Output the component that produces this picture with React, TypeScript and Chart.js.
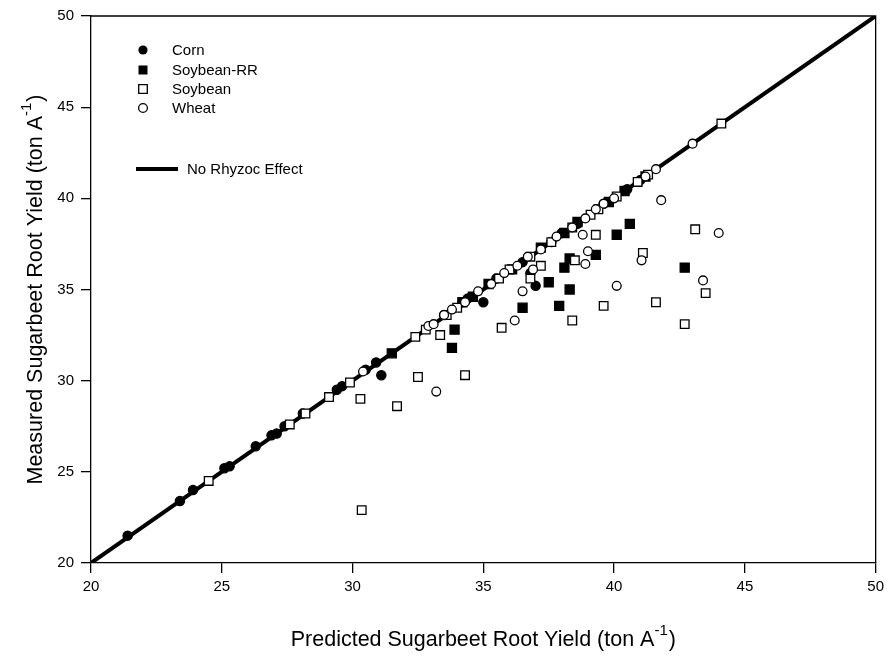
import React, { useEffect, useRef } from "react";
import { Chart, registerables } from "chart.js";

Chart.register(...registerables);

// ---- Data ----
const cornPredicted = [21.4, 23.4, 23.9, 25.1, 25.3, 26.3, 26.9, 27.1, 27.4, 28.1, 29.4, 29.6, 30.5, 30.9, 31.1, 33.5, 34.2, 34.4, 35.0, 35.5, 36.5, 36.8, 37.0, 37.6, 38.0, 38.6, 39.6, 40.5, 41.0];
const cornMeasured = [21.5, 23.4, 24.0, 25.2, 25.3, 26.4, 27.0, 27.1, 27.5, 28.2, 29.5, 29.7, 30.6, 31.0, 30.3, 33.6, 34.3, 34.5, 34.3, 35.6, 36.5, 35.9, 35.2, 37.6, 38.1, 38.6, 39.7, 40.5, 41.0];

const soyRRPredicted = [31.5, 34.2, 34.6, 35.2, 36.1, 37.2, 38.1, 38.6, 39.8, 40.4, 41.2, 33.8, 33.9, 36.5, 37.5, 37.9, 38.1, 38.3, 38.3, 39.3, 40.1, 40.6, 42.7];
const soyRRMeasured = [31.5, 34.3, 34.6, 35.3, 36.1, 37.3, 38.1, 38.7, 39.8, 40.4, 41.2, 31.8, 32.8, 34.0, 35.4, 34.1, 36.2, 36.7, 35.0, 36.9, 38.0, 38.6, 36.2];

const soyPredicted = [24.5, 27.6, 28.2, 29.1, 29.9, 32.4, 32.8, 33.6, 34.0, 35.6, 36.0, 36.8, 37.6, 38.4, 39.1, 39.4, 40.1, 40.9, 41.3, 44.1, 30.35, 30.3, 31.7, 32.5, 34.3, 33.35, 35.7, 36.8, 37.2, 38.4, 39.3, 38.5, 41.1, 43.1, 39.6, 41.6, 43.5, 42.7];
const soyMeasured = [24.5, 27.6, 28.2, 29.1, 29.9, 32.4, 32.8, 33.6, 34.0, 35.6, 36.1, 36.8, 37.6, 38.4, 39.1, 39.4, 40.1, 40.9, 41.3, 44.1, 22.9, 29.0, 28.6, 30.2, 30.3, 32.5, 32.9, 35.6, 36.3, 33.3, 38.0, 36.6, 37.0, 38.3, 34.1, 34.3, 34.8, 33.1];

const wheatPredicted = [30.4, 32.9, 33.1, 33.5, 33.8, 34.3, 34.8, 35.3, 35.8, 36.3, 36.7, 37.2, 37.8, 38.4, 38.9, 39.3, 39.6, 40.0, 41.2, 41.6, 43.0, 33.2, 36.2, 36.5, 36.9, 41.8, 44.0, 38.8, 39.0, 38.9, 41.05, 40.1, 43.4];
const wheatMeasured = [30.5, 33.0, 33.1, 33.6, 33.9, 34.3, 34.9, 35.3, 35.9, 36.3, 36.8, 37.2, 37.9, 38.4, 38.9, 39.4, 39.7, 40.0, 41.2, 41.6, 43.0, 29.4, 33.3, 34.9, 36.1, 39.9, 38.1, 38.0, 37.1, 36.4, 36.6, 35.2, 35.5];

const lineX = [20, 50];
const lineY = [20, 50];

const axisTicks = [20, 25, 30, 35, 40, 45, 50];

const seriesNames = ["Corn", "Soybean-RR", "Soybean", "Wheat"];
const lineName = "No Rhyzoc Effect";
const xTitle = "Predicted Sugarbeet Root Yield (ton A";
const yTitle = "Measured Sugarbeet Root Yield (ton A";
const supText = "-1";

const FONT = "'Liberation Sans', Arial, sans-serif";

function pts(xs: number[], ys: number[]) {
  return xs.map((x, i) => ({ x, y: ys[i] }));
}

function drawMarker(ctx: CanvasRenderingContext2D, kind: number, x: number, y: number) {
  ctx.save();
  ctx.lineWidth = 1.3;
  ctx.strokeStyle = "#000";
  ctx.beginPath();
  if (kind === 0) {
    ctx.arc(x, y, 4.6, 0, Math.PI * 2);
    ctx.fillStyle = "#000";
    ctx.fill();
  } else if (kind === 1) {
    ctx.rect(x - 4.5, y - 4.5, 9, 9);
    ctx.fillStyle = "#000";
    ctx.fill();
  } else if (kind === 2) {
    ctx.rect(x - 4.3, y - 4.3, 8.6, 8.6);
    ctx.fillStyle = "#fff";
    ctx.fill();
    ctx.stroke();
  } else {
    ctx.arc(x, y, 4.4, 0, Math.PI * 2);
    ctx.fillStyle = "#fff";
    ctx.fill();
    ctx.stroke();
  }
  ctx.restore();
}

function drawTitle(ctx: CanvasRenderingContext2D, main: string, cx: number, baseline: number) {
  const mainFont = `21.5px ${FONT}`;
  const supFont = `15px ${FONT}`;
  ctx.font = mainFont;
  const w1 = ctx.measureText(main).width;
  const w3 = ctx.measureText(")").width;
  ctx.font = supFont;
  const w2 = ctx.measureText(supText).width;
  const total = w1 + w2 + w3 + 1;
  let x = cx - total / 2;
  ctx.fillStyle = "#000";
  ctx.textBaseline = "alphabetic";
  ctx.textAlign = "left";
  ctx.font = mainFont;
  ctx.fillText(main, x, baseline);
  x += w1;
  ctx.font = supFont;
  ctx.fillText(supText, x, baseline - 11);
  x += w2 + 1;
  ctx.font = mainFont;
  ctx.fillText(")", x, baseline);
}

const decorPlugin = {
  id: "decor",
  afterDraw(chart: any) {
    const { ctx, chartArea } = chart;
    const { left, right, top, bottom } = chartArea;
    ctx.save();
    // frame (top & right)
    ctx.strokeStyle = "#000";
    ctx.lineWidth = 1.3;
    ctx.beginPath();
    ctx.moveTo(left, top);
    ctx.lineTo(right, top);
    ctx.lineTo(right, bottom);
    ctx.stroke();

    // legend
    const lx = 143;
    const ys = [50, 70, 89, 108];
    ctx.font = `15px ${FONT}`;
    seriesNames.forEach((name, i) => {
      drawMarker(ctx, i, lx, ys[i]);
      ctx.fillStyle = "#000";
      ctx.textBaseline = "middle";
      ctx.textAlign = "left";
      ctx.fillText(name, 172, ys[i] + 1);
    });
    ctx.strokeStyle = "#000";
    ctx.lineWidth = 4;
    ctx.beginPath();
    ctx.moveTo(136, 169);
    ctx.lineTo(178, 169);
    ctx.stroke();
    ctx.fillStyle = "#000";
    ctx.textBaseline = "middle";
    ctx.fillText(lineName, 187, 170);

    // axis titles
    const cx = (left + right) / 2;
    drawTitle(ctx, xTitle, cx, 646);
    ctx.save();
    ctx.translate(42, (top + bottom) / 2);
    ctx.rotate(-Math.PI / 2);
    drawTitle(ctx, yTitle, 0, 0);
    ctx.restore();
    ctx.restore();
  },
};

export default function App() {
  const canvasRef = useRef<HTMLCanvasElement | null>(null);

  useEffect(() => {
    if (!canvasRef.current) return;
    const markerStyles = [
      { pointStyle: "circle", radius: 4.6, bg: "#000" },
      { pointStyle: "rect", radius: 6.4, bg: "#000" },
      { pointStyle: "rect", radius: 6.1, bg: "#fff" },
      { pointStyle: "circle", radius: 4.4, bg: "#fff" },
    ];
    const seriesData = [
      pts(cornPredicted, cornMeasured),
      pts(soyRRPredicted, soyRRMeasured),
      pts(soyPredicted, soyMeasured),
      pts(wheatPredicted, wheatMeasured),
    ];
    const scatterSets = seriesNames.map((name, i) => ({
      type: "scatter" as const,
      label: name,
      data: seriesData[i],
      pointStyle: markerStyles[i].pointStyle,
      pointRadius: markerStyles[i].radius,
      pointBackgroundColor: markerStyles[i].bg,
      pointBorderColor: "#000",
      pointBorderWidth: 1.3,
      showLine: false,
      order: 4 - i,
    }));
    const tickFont = { family: FONT, size: 15 };
    const chart = new Chart(canvasRef.current, {
      type: "scatter",
      data: {
        datasets: [
          {
            type: "line" as const,
            label: lineName,
            data: pts(lineX, lineY),
            borderColor: "#000",
            borderWidth: 4,
            pointRadius: 0,
            showLine: true,
            fill: false,
            order: 10,
          } as any,
          ...scatterSets,
        ],
      },
      options: {
        animation: false,
        responsive: false,
        maintainAspectRatio: false,
        layout: { padding: { left: 0, top: 12, right: 13, bottom: 0 } },
        plugins: {
          legend: { display: false },
          tooltip: { enabled: false },
        },
        scales: {
          x: {
            type: "linear",
            min: 20,
            max: 50,
            afterBuildTicks: (s: any) => {
              s.ticks = axisTicks.map((v) => ({ value: v }));
            },
            afterFit: (s: any) => {
              s.height = 94;
            },
            grid: {
              drawOnChartArea: false,
              drawTicks: true,
              tickLength: 10,
              color: "#000",
              lineWidth: 1.3,
            },
            border: { display: true, color: "#000", width: 1.3 },
            ticks: { color: "#000", font: tickFont, padding: 5, maxRotation: 0 },
          },
          y: {
            type: "linear",
            min: 20,
            max: 50,
            afterBuildTicks: (s: any) => {
              s.ticks = axisTicks.map((v) => ({ value: v }));
            },
            afterFit: (s: any) => {
              s.width = 91;
            },
            grid: {
              drawOnChartArea: false,
              drawTicks: true,
              tickLength: 10,
              color: "#000",
              lineWidth: 1.3,
            },
            border: { display: true, color: "#000", width: 1.3 },
            ticks: { color: "#000", font: tickFont, padding: 7 },
          },
        },
      } as any,
      plugins: [decorPlugin],
    });
    return () => chart.destroy();
  }, []);

  return (
    <div style={{ position: "fixed", left: 0, top: 0, width: 889, height: 657, background: "#fff" }}>
      <canvas ref={canvasRef} width={889} height={657} style={{ width: 889, height: 657, display: "block" }} />
    </div>
  );
}
